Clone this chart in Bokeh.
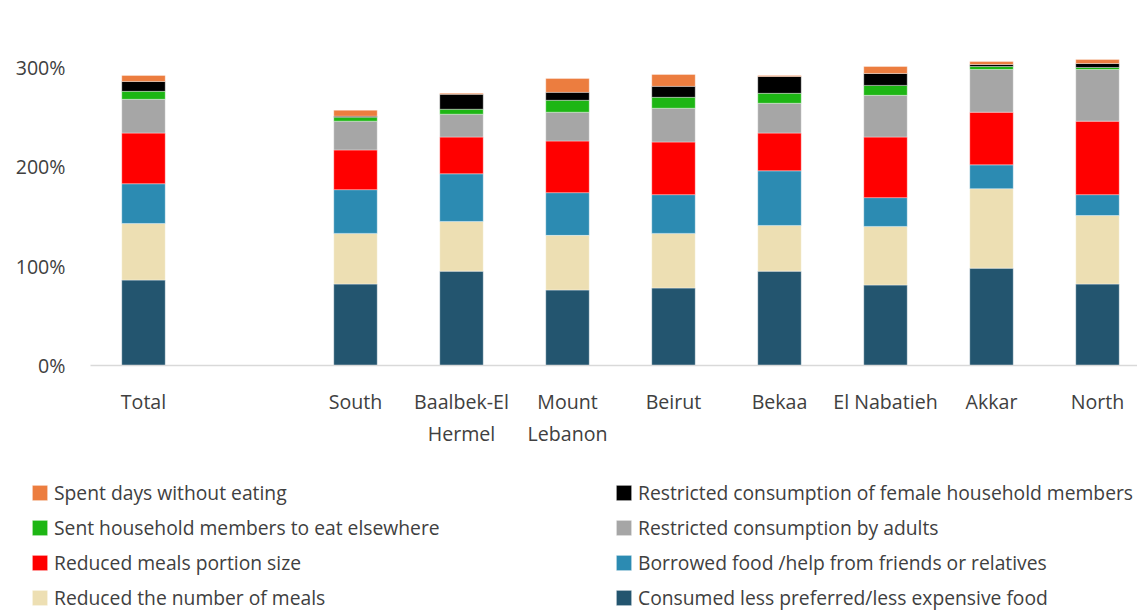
from bokeh.plotting import figure
from bokeh.models import Legend, LegendItem, Range1d, ColumnDataSource
from bokeh.embed import file_html
from bokeh.resources import INLINE

# ---- data -------------------------------------------------------------
slots = ["Total", "", "South", "Baalbek-El\nHermel", "Mount\nLebanon", "Beirut",
         "Bekaa", "El Nabatieh", "Akkar", "North"]
regions = [s for s in slots if s]

consumed_less_preferred = [86, 82, 95, 76, 78, 95, 81, 98, 82]
reduced_number_of_meals = [57, 51, 50, 55, 55, 46, 59, 80, 69]
borrowed_food = [40, 44, 48, 43, 39, 55, 29, 24, 21]
reduced_portion_size = [51, 40, 37, 52, 53, 38, 61, 53, 74]
restricted_adults = [34, 29, 23, 29, 34, 30, 42, 43, 52]
sent_elsewhere = [8, 4, 5, 12, 11, 10, 10, 3, 2]
restricted_female = [10, 1, 15, 8, 11, 17, 12, 2, 4]
days_without_eating = [6, 6, 1, 14, 12, 1, 7, 3, 4]

series = [
    ("Consumed less preferred/less expensive food", consumed_less_preferred, "#23556F"),
    ("Reduced the number of meals", reduced_number_of_meals, "#EDDFB3"),
    ("Borrowed food /help from friends or relatives", borrowed_food, "#2C8BB2"),
    ("Reduced meals portion size", reduced_portion_size, "#FF0000"),
    ("Restricted consumption by adults", restricted_adults, "#A6A6A6"),
    ("Sent household members to eat elsewhere", sent_elsewhere, "#1DB614"),
    ("Restricted consumption of female household members", restricted_female, "#000000"),
    ("Spent days without eating", days_without_eating, "#EC7D3F"),
]
y_ticks = [0, 100, 200, 300]
y_tick_labels = ["0%", "100%", "200%", "300%"]

FONT = "Open Sans"
TXT = "#404040"
FS = "19.6px"
LEG_FS = "19.3px"

# ---- geometry (pixels) ----------------------------------------------
W, H = 1137, 613
PLOT_LEFT = 90          # where the category area starts
SLOT_PX = 106           # width of one category slot
ZERO_Y = 365            # pixel row of the 0% baseline
PX_PER_UNIT = 0.99333   # pixels per percentage point

x_pos = [i for i, s in enumerate(slots) if s]
x_start = -0.5 - PLOT_LEFT / SLOT_PX
x_end = x_start + W / SLOT_PX
y_top = ZERO_Y / PX_PER_UNIT
y_bottom = -(H - ZERO_Y) / PX_PER_UNIT

p = figure(width=W, height=H, output_backend="svg", toolbar_location=None,
           x_axis_location=None, y_axis_location=None, min_border=0,
           x_range=Range1d(x_start, x_end), y_range=Range1d(y_bottom, y_top))
p.grid.visible = False
p.outline_line_color = None

# ---- bars ------------------------------------------------------------
data = {"x": x_pos, "region": regions}
keys = []
for i, (name, vals, col) in enumerate(series):
    k = "s%d" % i
    data[k] = vals
    keys.append(k)
src = ColumnDataSource(data)

renderers = p.vbar_stack(keys, x="x", width=0.41, source=src,
                         color=[c for _, _, c in series],
                         line_color="white", line_alpha=0.45, line_width=0.8)
rmap = {name: r for (name, _, _), r in zip(series, renderers)}

# ---- baseline (category axis line) -----------------------------------
p.segment(x0=[-0.5], x1=[len(slots) - 0.5], y0=[0], y1=[0],
          line_color="#D9D9D9", line_width=1.5)

# ---- category labels -------------------------------------------------
p.text(x=x_pos, y=[0] * len(x_pos), text=regions,
       y_offset=22, text_align="center", text_baseline="top",
       text_font={"value": FONT}, text_font_size={"value": FS},
       text_color=TXT, text_line_height=1.2)

# ---- value-axis labels -----------------------------------------------
p.text(x=[-0.5] * len(y_ticks), y=y_ticks, text=y_tick_labels,
       x_offset=-25, text_align="right", text_baseline="middle",
       text_font={"value": FONT}, text_font_size={"value": FS},
       text_color=TXT)

# ---- legend (two columns) --------------------------------------------
order = list(reversed(series))
left_names = [order[i][0] for i in range(0, 8, 2)]
right_names = [order[i][0] for i in range(1, 8, 2)]


def make_legend(names, loc):
    leg = Legend(items=[LegendItem(label=n, renderers=[rmap[n]]) for n in names],
                 location=loc, orientation="vertical",
                 glyph_width=19, glyph_height=19, label_standoff=5,
                 label_height=20, spacing=8, padding=0, margin=0,
                 border_line_color=None, background_fill_alpha=0,
                 label_text_font=FONT, label_text_font_size=LEG_FS,
                 label_text_color=TXT)
    p.add_layout(leg, "center")


make_legend(left_names, (30, 2))
make_legend(right_names, (614, 2))

open("out.html", "w").write(file_html(p, INLINE))
